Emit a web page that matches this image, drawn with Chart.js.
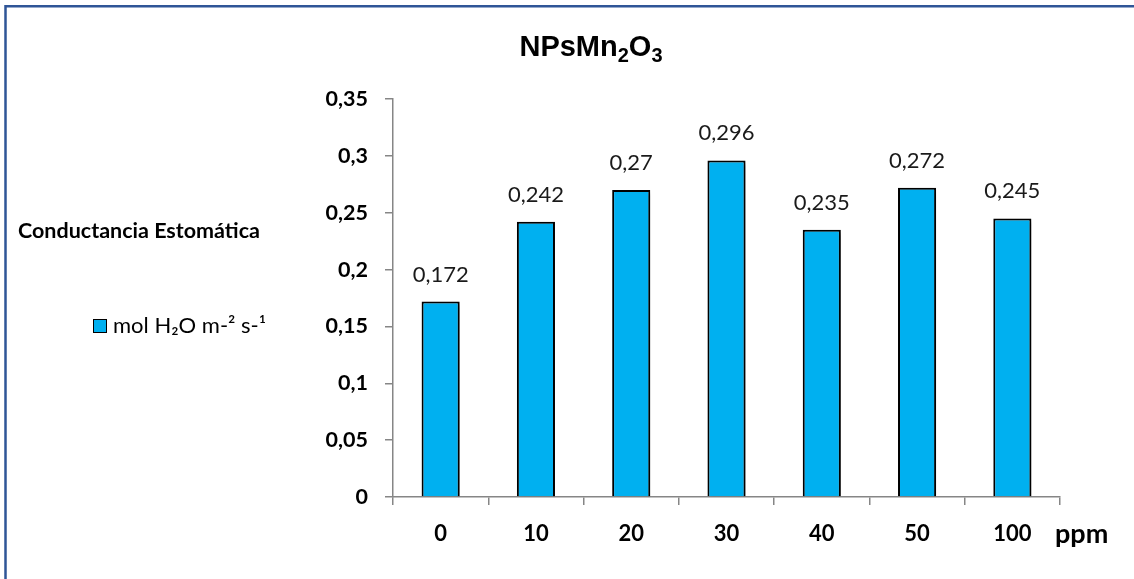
<!DOCTYPE html>
<html>
<head>
<meta charset="utf-8">
<script src="https://cdn.jsdelivr.net/npm/chart.js@4/dist/chart.umd.min.js"></script>
<style>
  html, body { margin: 0; padding: 0; background: #fff; overflow: hidden; }
  #wrap { width: 1134px; height: 579px; }
</style>
</head>
<body>
<div id="wrap"><canvas id="graph" width="1134" height="579"></canvas></div>
<script>
// Data
const categories = ['0', '10', '20', '30', '40', '50', '100'];
const conductance = [0.172, 0.242, 0.27, 0.296, 0.235, 0.272, 0.245];
const valueLabels = ['0,172', '0,242', '0,27', '0,296', '0,235', '0,272', '0,245'];
const yTickLabels = ['0', '0,05', '0,1', '0,15', '0,2', '0,25', '0,3', '0,35'];

const barColor = '#00B0F0';
const axisColor = '#868686';
const bodyFont = 'Lato, "Open Sans", sans-serif';

// extra drawing: frame, title with subscripts, legend, labels
const decorations = {
  id: 'decorations',
  beforeDatasetsDraw(chart) {
    const ctx = chart.ctx;
    ctx.save();
    ctx.shadowColor = 'rgba(0,0,0,0.3)';
    ctx.shadowOffsetX = 3;
    ctx.shadowOffsetY = 3;
    ctx.shadowBlur = 4;
  },
  afterDatasetsDraw(chart) {
    const ctx = chart.ctx;
    ctx.restore();

    // value labels above the bars
    const meta = chart.getDatasetMeta(0);
    ctx.save();
    ctx.fillStyle = '#1a1a1a';
    ctx.font = '22px ' + bodyFont;
    ctx.textAlign = 'center';
    ctx.textBaseline = 'middle';
    meta.data.forEach((bar, i) => {
      ctx.fillText(valueLabels[i], bar.x, bar.y - 27);
    });
    ctx.restore();
  },
  afterDraw(chart) {
    const ctx = chart.ctx;
    ctx.save();

    // outer frame (only left and top edges are visible)
    ctx.strokeStyle = '#2F5597';
    ctx.lineWidth = 2.5;
    ctx.beginPath();
    ctx.moveTo(5.5, 579);
    ctx.lineTo(5.5, 6.2);
    ctx.lineTo(1134, 6.2);
    ctx.stroke();

    // title NPsMn2O3
    const parts = [
      { t: 'NPsMn', sub: false },
      { t: '2', sub: true },
      { t: 'O', sub: false },
      { t: '3', sub: true }
    ];
    const bigFont = 'bold 29px "Liberation Sans", Arial, sans-serif';
    const smallFont = 'bold 20px "Liberation Sans", Arial, sans-serif';
    let total = 0;
    parts.forEach(p => {
      ctx.font = p.sub ? smallFont : bigFont;
      total += ctx.measureText(p.t).width;
    });
    let x = 591 - total / 2;
    ctx.fillStyle = '#000';
    ctx.textBaseline = 'alphabetic';
    ctx.textAlign = 'left';
    parts.forEach(p => {
      ctx.font = p.sub ? smallFont : bigFont;
      ctx.fillText(p.t, x, p.sub ? 62 : 56);
      x += ctx.measureText(p.t).width;
    });

    // side label
    ctx.font = 'bold 21.5px ' + bodyFont;
    ctx.textBaseline = 'middle';
    ctx.fillText('Conductancia Estomática', 18, 231);

    // legend
    ctx.fillStyle = barColor;
    ctx.fillRect(93, 319, 13, 13);
    ctx.strokeStyle = '#000';
    ctx.lineWidth = 1;
    ctx.strokeRect(93.5, 319.5, 13, 13);
    ctx.fillStyle = '#000';
    ctx.font = '22px ' + bodyFont;
    ctx.fillText('mol H\u2082O m-\u00B2 s-\u00B9', 113, 326);

    // axis unit
    ctx.font = 'bold 27px ' + bodyFont;
    ctx.textBaseline = 'alphabetic';
    ctx.fillText('ppm', 1055, 543);

    ctx.restore();
  }
};

const config = {
  type: 'bar',
  data: {
    labels: categories,
    datasets: [{
      label: 'mol H\u2082O m-\u00B2 s-\u00B9',
      data: conductance,
      backgroundColor: barColor,
      borderColor: '#000',
      borderWidth: 2,
      barPercentage: 0.40,
      categoryPercentage: 1
    }]
  },
  options: {
    responsive: false,
    animation: false,
    layout: { padding: { top: 99, right: 74, left: 0, bottom: 0 } },
    plugins: {
      legend: { display: false },
      tooltip: { enabled: false }
    },
    scales: {
      x: {
        offset: true,
        afterFit: (s) => { s.height = 82; },
        grid: {
          offset: true,
          drawOnChartArea: false,
          drawTicks: true,
          tickLength: 8,
          color: axisColor,
          lineWidth: 1.5
        },
        border: { color: axisColor, width: 1.5 },
        ticks: {
          color: '#000',
          padding: 16,
          font: { family: bodyFont, size: 22, weight: 'bold' }
        }
      },
      y: {
        min: 0,
        max: 0.35,
        afterFit: (s) => { s.width = 393; },
        afterBuildTicks: (s) => {
          s.ticks = yTickLabels.map((_, i) => ({ value: i * 0.05 }));
        },
        grid: {
          drawOnChartArea: false,
          drawTicks: true,
          tickLength: 8,
          color: axisColor,
          lineWidth: 1.5
        },
        border: { color: axisColor, width: 1.5 },
        ticks: {
          color: '#000',
          padding: 17,
          font: { family: bodyFont, size: 21.5, weight: 'bold' },
          callback: (v, i) => yTickLabels[i]
        }
      }
    }
  },
  plugins: [decorations]
};

const myChart = new Chart(document.getElementById('graph').getContext('2d'), config);
</script>
</body>
</html>
